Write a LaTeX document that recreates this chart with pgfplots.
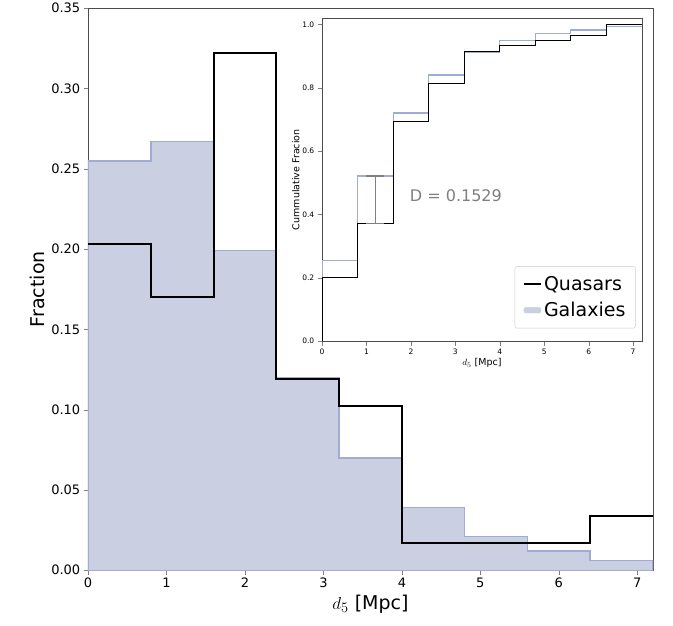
\documentclass[border=0pt]{standalone}
\usepackage{fontspec}
\setmainfont{DejaVu Sans}
\usepackage{pgfplots}
\pgfplotsset{compat=1.18}
\definecolor{galfill}{RGB}{202,208,226}
\definecolor{galedge}{RGB}{160,172,212}
\begin{document}
\begin{tikzpicture}
\begin{axis}[name=main, scale only axis, width=565pt, height=562pt,
  xmin=0, xmax=7.2, ymin=0, ymax=0.35,
  xtick={0,1,2,3,4,5,6,7}, ytick={0,0.05,...,0.35}, tick pos=left,
  /pgf/number format/assume math mode=true,
  yticklabel style={/pgf/number format/fixed,/pgf/number format/fixed zerofill,/pgf/number format/precision=2},
  tick label style={font=\fontsize{13}{15}\selectfont},
  xlabel={$d_5$ [Mpc]}, ylabel={Fraction},
  label style={font=\fontsize{19}{22}\selectfont},
  tick align=outside, axis line style={black!70}]
\addplot[const plot, fill=galfill, draw=galedge, line width=1.5pt] coordinates {
(0,0.255)(0.8,0.267)(1.6,0.199)(2.4,0.120)(3.2,0.070)(4.0,0.039)(4.8,0.021)(5.6,0.012)(6.4,0.006)(7.2,0.006)} \closedcycle;
\addplot[const plot, black, line width=2pt] coordinates {
(0,0.203)(0.8,0.170)(1.6,0.322)(2.4,0.119)(3.2,0.102)(4.0,0.017)(4.8,0.017)(5.6,0.017)(6.4,0.034)(7.2,0.034)};
\end{axis}
\path[use as bounding box] ([xshift=-88pt,yshift=-55pt]main.south west) rectangle ([xshift=20pt,yshift=8pt]main.north east);
\begin{axis}[at={(234pt,229pt)}, anchor=south west, scale only axis, width=320pt, height=323pt,
  xmin=0, xmax=7.2, ymin=0, ymax=1.02,
  xtick={0,1,2,3,4,5,6,7}, ytick={0,0.2,...,1.0}, tick pos=left,
  axis background/.style={fill=white},
  /pgf/number format/assume math mode=true,
  yticklabel style={/pgf/number format/fixed,/pgf/number format/fixed zerofill,/pgf/number format/precision=1},
  tick label style={font=\fontsize{7.5}{8}\selectfont},
  xlabel={$d_5$ [Mpc]}, ylabel={Cummulative Fracion},
  label style={font=\fontsize{9.5}{10}\selectfont},
  xlabel style={yshift=3pt}, ylabel style={yshift=-4pt},
  tick align=outside, axis line style={black!70},
  legend style={at={(0.98,0.04)}, anchor=south east, font=\fontsize{19}{22}\selectfont, row sep=6pt, inner sep=8pt, draw=black!20, rounded corners=2pt},
  legend cell align=left]
\addlegendimage{black, line width=2pt}
\addlegendentry{Quasars}
\addlegendimage{area legend, fill=galfill, draw=galfill}
\addlegendentry{Galaxies}
\addplot[const plot, galedge, line width=1.2pt, forget plot] coordinates {
(0,0)(0,0.255)(0.8,0.522)(1.6,0.721)(2.4,0.841)(3.2,0.911)(4.0,0.950)(4.8,0.971)(5.6,0.983)(6.4,0.995)(7.2,0.995)};
\addplot[const plot, black, line width=0.9pt, forget plot] coordinates {
(0,0)(0,0.203)(0.8,0.373)(1.6,0.695)(2.4,0.814)(3.2,0.916)(4.0,0.933)(4.8,0.950)(5.6,0.967)(6.4,1.0)(7.2,1.0)};
\addplot[gray, line width=1.5pt, forget plot] coordinates {(1.2,0.373)(1.2,0.522)};
\addplot[gray, line width=1.2pt, forget plot] coordinates {(1.0,0.373)(1.4,0.373)};
\addplot[gray, line width=1.2pt, forget plot] coordinates {(1.0,0.522)(1.4,0.522)};
\node[anchor=west, text=gray, font=\fontsize{16}{18}\selectfont] at (axis cs:1.9,0.46) {D = 0.1529};
\end{axis}
\end{tikzpicture}
\end{document}
